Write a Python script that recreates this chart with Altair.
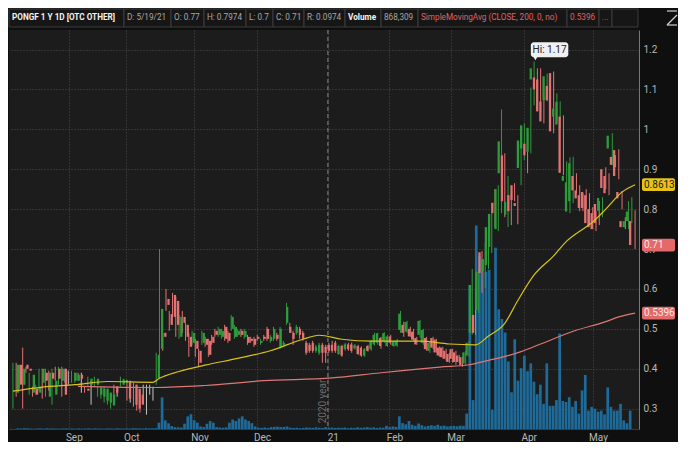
import json
import numpy as np
import pandas as pd
import altair as alt

# ---------------- data ----------------
opens = [
    .34, .41, .36, .41, .40, .34, .35, .34, .365, .39,
    .33, .39, .335, .40, .37, .40, .38, .375, .37, .37,
    .385, .37, .35, .36, .35, .36, .335, .33, .32, .315,
    .308, .356, .338, .36, .365, .365, .35, .36, .35, .335,
    .34, .33, .35, .34, .375, .45, .49, .575, .537, .585,
    .57, .48, .53, .51, .48, .465, .47, .445, .465, .475,
    .47, .48, .495, .485, .48, .505, .49, .50, .48, .485,
    .495, .48, .48, .475, .475, .48, .465, .48, .50, .47,
    .475, .485, .455, .46, .515, .505, .49, .49, .50, .49,
    .465, .46, .465, .445, .44, .46, .455, .46, .46, .465,
    .437, .457, .449, .461, .461, .451, .457, .453, .433, .457,
    .449, .461, .465, .477, .469, .457, .481, .457, .458, .497,
    .51, .493, .50, .493, .477, .485, .465, .477, .445, .477,
    .473, .453, .453, .445, .437, .449, .441, .433, .429, .413,
    .433, .49, .535, .547, .692, .645, .66, .705, .816, .75,
    .89, .935, .786, .835, .86, .815, .903, .952, .964, .944,
    1.125, 1.13, 1.125, 1.07, 1.073, 1.109, 1.141, 1.032, 1.012, 1.032,
    .871, .794, .82, .883, .847, .835, .843, .835, .80, .79,
    .813, .796, .90, .883, .952, .931, .948, .843, .77, .755,
    .77, .77,
]
highs = [
    .415, .415, .41, .453, .405, .39, .355, .36, .40, .40,
    .40, .395, .40, .405, .405, .405, .40, .395, .395, .39,
    .39, .39, .355, .38, .37, .38, .355, .355, .355, .345,
    .34, .36, .345, .38, .375, .37, .37, .365, .36, .34,
    .36, .36, .36, .355, .44, .70, .49, .60, .545, .59,
    .58, .535, .545, .515, .49, .495, .475, .45, .495, .48,
    .475, .485, .50, .505, .50, .51, .495, .535, .51, .50,
    .50, .50, .485, .48, .48, .485, .475, .485, .505, .485,
    .505, .49, .505, .47, .565, .515, .495, .51, .505, .495,
    .47, .465, .47, .46, .465, .465, .46, .465, .47, .47,
    .46, .46, .465, .465, .466, .462, .46, .456, .452, .46,
    .472, .49, .49, .48, .492, .485, .485, .47, .475, .545,
    .518, .52, .505, .50, .48, .522, .50, .48, .468, .48,
    .475, .456, .455, .45, .44, .45, .445, .435, .43, .445,
    .47, .65, .595, .65, .695, .716, .772, .79, .85, .86,
    1.05, .94, .883, .84, .865, .835, .996, 1.015, .972, 1.105,
    1.17, 1.153, 1.153, 1.08, 1.14, 1.133, 1.145, 1.09, 1.07, 1.035,
    .92, .93, .931, .89, .86, .84, .85, .84, .805, .795,
    .82, .83, .905, .89, .99, .935, .95, .845, .78, .82,
    .83, .7974,
]
lows = [
    .30, .33, .35, .30, .39, .335, .33, .335, .345, .325,
    .33, .345, .31, .37, .36, .33, .365, .36, .365, .365,
    .37, .34, .34, .355, .31, .355, .33, .325, .315, .31,
    .30, .335, .33, .355, .36, .32, .315, .305, .295, .29,
    .325, .285, .335, .32, .36, .42, .445, .545, .495, .53,
    .48, .475, .49, .47, .43, .46, .43, .405, .46, .455,
    .43, .46, .48, .48, .475, .47, .465, .495, .475, .48,
    .48, .475, .46, .465, .455, .47, .46, .47, .47, .465,
    .47, .47, .45, .455, .51, .49, .46, .485, .475, .47,
    .435, .44, .44, .44, .435, .415, .415, .44, .44, .44,
    .435, .43, .445, .445, .44, .448, .435, .43, .43, .443,
    .445, .458, .46, .45, .465, .455, .46, .455, .455, .49,
    .48, .49, .48, .47, .46, .478, .46, .445, .44, .45,
    .44, .43, .425, .42, .415, .415, .41, .415, .405, .41,
    .43, .485, .485, .54, .59, .603, .65, .69, .755, .745,
    .79, .78, .755, .76, .82, .762, .86, .923, .89, .94,
    1.06, 1.06, 1.04, 1.015, 1.07, 1.07, .99, 1.02, 1.005, .885,
    .865, .79, .815, .84, .795, .795, .80, .76, .75, .745,
    .76, .78, .85, .835, .91, .905, .875, .80, .75, .75,
    .765, .70,
]
closes = [
    .41, .36, .40, .40, .395, .385, .335, .355, .40, .37,
    .39, .375, .37, .375, .40, .335, .38, .375, .39, .385,
    .375, .37, .345, .375, .35, .375, .352, .35, .35, .34,
    .336, .34, .338, .373, .372, .325, .35, .31, .30, .31,
    .34, .33, .35, .34, .435, .55, .48, .56, .51, .53,
    .51, .53, .515, .48, .455, .49, .45, .415, .49, .46,
    .435, .465, .485, .50, .495, .475, .47, .53, .505, .495,
    .485, .495, .465, .47, .46, .475, .47, .475, .475, .48,
    .50, .475, .50, .465, .555, .49, .475, .505, .485, .475,
    .44, .445, .445, .455, .46, .44, .44, .445, .445, .445,
    .457, .433, .461, .449, .445, .459, .437, .433, .449, .445,
    .469, .485, .489, .457, .489, .481, .465, .469, .47, .538,
    .49, .517, .481, .473, .461, .52, .497, .449, .465, .453,
    .441, .433, .429, .425, .417, .425, .417, .417, .409, .441,
    .465, .61, .49, .643, .64, .675, .755, .788, .79, .85,
    .97, .82, .818, .795, .823, .808, .972, 1.01, .935, 1.004,
    1.153, 1.10, 1.045, 1.02, 1.133, 1.073, .995, 1.052, 1.069, .891,
    .883, .867, .915, .847, .827, .803, .803, .765, .755, .75,
    .765, .828, .853, .84, .984, .911, .883, .827, .755, .77,
    .794, .71,
]
volume_k = [
    30, 25, 40, 35, 20, 15, 25, 30, 20, 35,
    25, 30, 20, 15, 25, 30, 20, 25, 15, 30,
    20, 25, 35, 20, 30, 25, 20, 15, 30, 25,
    20, 35, 25, 20, 30, 25, 40, 35, 30, 25,
    45, 30, 35, 40, 300, 1500, 410, 270, 140, 90,
    80, 70, 250, 600, 700, 420, 300, 120, 90, 250,
    380, 300, 90, 70, 60, 80, 300, 450, 380, 500,
    600, 450, 380, 280, 120, 60, 50, 70, 50, 90,
    100, 110, 90, 100, 120, 60, 50, 60, 40, 50,
    70, 60, 50, 80, 60, 50, 90, 60, 70, 50,
    60, 50, 70, 40, 60, 50, 80, 60, 70, 90,
    60, 80, 50, 70, 60, 150, 90, 120, 100, 600,
    280, 220, 380, 200, 150, 260, 180, 120, 150, 180,
    150, 200, 140, 160, 120, 140, 150, 130, 160, 150,
    730, 6810, 1370, 9640, 8180, 8040, 7450, 7540, 910, 8590,
    5670, 5210, 4570, 3200, 1740, 4250, 2290, 2880, 3470, 2740,
    3110, 2240, 1650, 2100, 1190, 3110, 1100, 1100, 1370, 4520,
    1330, 1280, 1510, 1050, 1330, 730, 1830, 2560, 870, 1050,
    960, 820, 870, 690, 1970, 1050, 870, 870, 1190, 410,
    270, 868,
]

# moving averages (bar index, value)
sma_fast_idx = [0, 9, 19, 29, 43, 45, 51, 59, 69, 79, 89, 94, 101, 110, 125, 134,
                142, 146, 151, 155, 160, 166, 170, 176, 178, 182, 187, 191]
sma_fast_val = [0.344, 0.354, 0.360, 0.368, 0.366, 0.376, 0.393, 0.409, 0.426, 0.445,
                0.474, 0.484, 0.474, 0.469, 0.469, 0.462, 0.460, 0.482, 0.514, 0.571,
                0.635, 0.683, 0.720, 0.756, 0.768, 0.800, 0.843, 0.8613]
sma200_idx = [20, 44, 59, 77, 98, 113, 122, 131, 140, 146, 152, 156, 162, 172, 182, 186, 191]
sma200_val = [0.356, 0.353, 0.358, 0.370, 0.377, 0.390, 0.397, 0.404, 0.410, 0.421,
              0.433, 0.443, 0.462, 0.494, 0.518, 0.530, 0.5396]

month_pos = [15.9, 33.8, 55.1, 74.6, 96.7, 115.9, 135.0, 157.8, 179.4]
month_lbl = ["Sep", "Oct", "Nov", "Dec", "21", "Feb", "Mar", "Apr", "May"]
price_ticks = [0.3, 0.4, 0.5, 0.6, 0.7, 0.8, 0.9, 1.0, 1.1, 1.2]
year_label = "2020 year"

hdr_labels = ["PONGF 1 Y 1D [OTC OTHER]", "D: 5/19/21", "O: 0.77", "H: 0.7974", "L: 0.7",
              "C: 0.71", "R: 0.0974", "Volume", "868,309",
              "SimpleMovingAvg (CLOSE, 200, 0, no)", "0.5396", "...", ""]

# ---------------- layout / style ----------------
W, H = 630, 399
hdr_edges = [0, 115, 162, 195, 237, 264, 295, 336, 372, 409, 558, 590, 603, 629]
hdr_colors = ["#f2f2f2", "#a8a8a8", "#a8a8a8", "#a8a8a8", "#a8a8a8", "#a8a8a8", "#a8a8a8",
              "#f2f2f2", "#a8a8a8", "#e06262", "#e06262", "#3fa34a", "#a8a8a8"]
hdr_weights = ["bold", "normal", "normal", "normal", "normal", "normal", "normal",
               "bold", "normal", "normal", "normal", "normal", "normal"]
UP, DOWN, FLAT = "#2f9c3c", "#e57272", "#c4c4c4"
FONT = "Roboto"
HDR_SIZE = 8.2

N = len(closes)
candles = pd.DataFrame({"i": np.arange(N), "open": opens, "high": highs,
                        "low": lows, "close": closes, "vol": volume_k})
candles["dir"] = np.where(candles.close > candles.open, "up",
                          np.where(candles.close < candles.open, "down", "flat"))

xs = alt.Scale(domain=[-1.2, N - 1 + 1.2], nice=False, zero=False)
ys = alt.Scale(domain=[0.249, 1.249], nice=False, zero=False)
vs = alt.Scale(domain=[0, 18900], nice=False, zero=True)
cs = alt.Scale(domain=["up", "down", "flat"], range=[UP, DOWN, FLAT])

label_expr = f"{json.dumps(month_lbl)}[indexof({json.dumps(month_pos)}, datum.value)]"
x_axis = alt.Axis(values=month_pos, labelExpr=label_expr, grid=True, gridColor="#4c4c4c",
                  gridDash=[1, 2], ticks=False, domainColor="#3a3a3a", labelColor="#b8b8b8",
                  labelFontSize=10, labelPadding=3, labelOffset=5, title=None, labelFont=FONT)
y_axis = alt.Axis(orient="right", values=price_ticks, format=".1~f", grid=True,
                  gridColor="#4c4c4c", gridDash=[1, 2], ticks=False, domainColor="#777777",
                  labelColor="#b8b8b8", labelFontSize=10, labelPadding=4, title=None,
                  labelFont=FONT)

base = alt.Chart(candles)

volume = base.mark_bar(width=2.7, color="#1e6a98").encode(
    x=alt.X("i:Q", scale=xs, axis=x_axis),
    y=alt.Y("vol:Q", scale=vs, axis=None),
)

year_pos = month_pos[month_lbl.index("21")]
year_df = pd.DataFrame({"x": [year_pos], "y": [0.318], "t": [year_label]})
year_rule = alt.Chart(year_df).mark_rule(strokeDash=[4, 3], color="#8a8a8a", strokeWidth=1).encode(
    x=alt.X("x:Q", scale=xs, axis=None))
year_text = alt.Chart(year_df).mark_text(angle=270, baseline="bottom", align="center",
                                         color="#6c6c6c", fontSize=10, font=FONT).encode(
    x=alt.X("x:Q", scale=xs, axis=None), y=alt.Y("y:Q", scale=ys, axis=None), text="t:N")

wicks = base.mark_rule(strokeWidth=1).encode(
    x=alt.X("i:Q", scale=xs, axis=None),
    y=alt.Y("low:Q", scale=ys, axis=y_axis), y2="high:Q",
    color=alt.Color("dir:N", scale=cs, legend=None))
bodies = base.mark_bar(width=2.3).encode(
    x=alt.X("i:Q", scale=xs, axis=None),
    y=alt.Y("open:Q", scale=ys, axis=None), y2="close:Q",
    color=alt.Color("dir:N", scale=cs, legend=None))

fast_df = pd.DataFrame({"i": sma_fast_idx, "v": sma_fast_val})
slow_df = pd.DataFrame({"i": sma200_idx, "v": sma200_val})
fast_line = alt.Chart(fast_df).mark_line(color="#d8c21c", strokeWidth=1.2, interpolate="monotone").encode(
    x=alt.X("i:Q", scale=xs, axis=None), y=alt.Y("v:Q", scale=ys, axis=None))
slow_line = alt.Chart(slow_df).mark_line(color="#dd7676", strokeWidth=1.2, interpolate="monotone").encode(
    x=alt.X("i:Q", scale=xs, axis=None), y=alt.Y("v:Q", scale=ys, axis=None))

# price tags on the right axis
tag_vals = [sma_fast_val[-1], closes[-1], sma200_val[-1]]
tags = pd.DataFrame({"v": tag_vals,
                     "label": [f"{v:g}" for v in tag_vals],
                     "fill": ["#e6c316", "#e46a6a", "#e46a6a"],
                     "tc": ["#1a1a1a", "#fde6e6", "#fde6e6"]})
tags["top"] = tags.v + 0.016
tags["bot"] = tags.v - 0.016
tag_rect = alt.Chart(tags).mark_rect(cornerRadius=2).encode(
    x=alt.value(W + 3), x2=alt.value(W + 36),
    y=alt.Y("top:Q", scale=ys, axis=None), y2="bot:Q",
    color=alt.Color("fill:N", scale=None))
tag_text = alt.Chart(tags).mark_text(align="left", baseline="middle", fontSize=10, font=FONT).encode(
    x=alt.value(W + 5), y=alt.Y("v:Q", scale=ys, axis=None),
    text="label:N", color=alt.Color("tc:N", scale=None))

# "Hi" bubble
hi_i = int(np.argmax(highs))
hi_v = float(max(highs))
hi_df = pd.DataFrame({"x0": [hi_i - 1.0], "x1": [hi_i + 10.5],
                      "y0": [hi_v + 0.011], "y1": [hi_v + 0.048],
                      "px": [hi_i + 0.4], "py": [hi_v + 0.008],
                      "t": [f"Hi: {hi_v:g}"]})
hi_df["tx"] = (hi_df.x0 + hi_df.x1) / 2
hi_df["ty"] = (hi_df.y0 + hi_df.y1) / 2
hi_rect = alt.Chart(hi_df).mark_rect(fill="#f0f0f0", cornerRadius=3).encode(
    x=alt.X("x0:Q", scale=xs, axis=None), x2="x1:Q",
    y=alt.Y("y0:Q", scale=ys, axis=None), y2="y1:Q")
hi_ptr = alt.Chart(hi_df).mark_point(shape="triangle-down", filled=True, color="#f0f0f0",
                                     size=22, opacity=1).encode(
    x=alt.X("px:Q", scale=xs, axis=None), y=alt.Y("py:Q", scale=ys, axis=None))
hi_text = alt.Chart(hi_df).mark_text(color="#222222", fontSize=10, font=FONT).encode(
    x=alt.X("tx:Q", scale=xs, axis=None), y=alt.Y("ty:Q", scale=ys, axis=None), text="t:N")

# header strip
hdr = pd.DataFrame({"label": hdr_labels, "x0": hdr_edges[:-1], "x1": hdr_edges[1:],
                    "c": hdr_colors, "w": hdr_weights})
hdr["tx"] = hdr.x0 + 3
hdr_box = alt.Chart(hdr).mark_rect(fill="#161616", stroke="#3d3d3d", strokeWidth=1).encode(
    x=alt.X("x0:Q", scale=None), x2="x1:Q", y=alt.value(-21), y2=alt.value(-3))
hdr_norm = alt.Chart(hdr[hdr.w == "normal"]).mark_text(
    align="left", baseline="middle", fontSize=HDR_SIZE, font=FONT).encode(
    x=alt.X("tx:Q", scale=None), y=alt.value(-12), text="label:N",
    color=alt.Color("c:N", scale=None))
hdr_bold = alt.Chart(hdr[hdr.w == "bold"]).mark_text(
    align="left", baseline="middle", fontSize=HDR_SIZE, font=FONT, fontWeight="bold").encode(
    x=alt.X("tx:Q", scale=None), y=alt.value(-12), text="label:N",
    color=alt.Color("c:N", scale=None))

icon_df = pd.DataFrame({"k": [0]})
icon = alt.layer(
    alt.Chart(icon_df).mark_rule(color="#cfcfcf", strokeWidth=1.2).encode(
        x=alt.value(W + 28), x2=alt.value(W + 38), y=alt.value(-19), y2=alt.value(-19)),
    alt.Chart(icon_df).mark_rule(color="#cfcfcf", strokeWidth=1.2).encode(
        x=alt.value(W + 28), x2=alt.value(W + 38), y=alt.value(-5), y2=alt.value(-15)),
    alt.Chart(icon_df).mark_rule(color="#cfcfcf", strokeWidth=1.2).encode(
        x=alt.value(W + 28), x2=alt.value(W + 38), y=alt.value(-5), y2=alt.value(-5)),
)

chart = alt.layer(
    volume, year_rule, wicks, bodies, slow_line, fast_line, year_text,
    tag_rect, tag_text, hi_rect, hi_ptr, hi_text,
    hdr_box, hdr_norm, hdr_bold, icon,
).resolve_scale(
    x="independent", y="independent"
).properties(
    width=W, height=H, background="#0f0f0f",
    padding={"left": 0, "top": 0, "right": 0, "bottom": 0},
).configure_view(stroke=None, fill="#1c1c1c")

chart.save("out.html", embed_options={"renderer": "svg", "actions": False})
